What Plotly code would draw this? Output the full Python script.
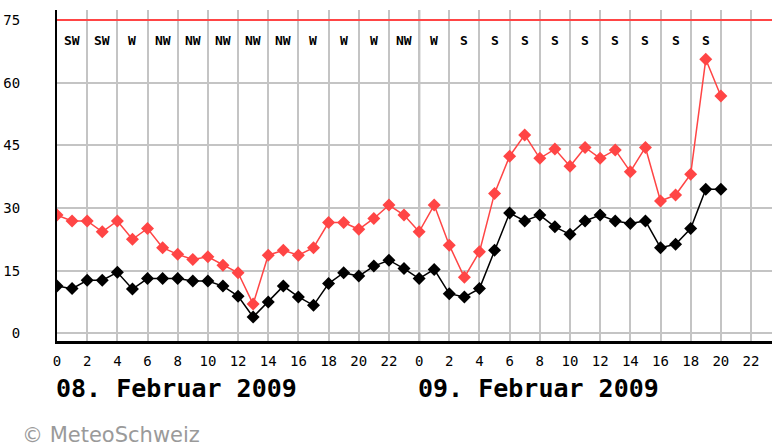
import plotly.graph_objects as go

# ---- data ----
hours = list(range(45))  # hourly from 08.02.2009 00h to 09.02.2009 20h
gusts = [28.3, 26.9, 26.9, 24.3, 26.9, 22.5, 25.1, 20.5, 18.9, 17.7, 18.3, 16.3, 14.5, 7.0,
         18.7, 19.9, 18.7, 20.5, 26.5, 26.5, 24.9, 27.5, 30.7, 28.3,
         24.3, 30.7, 21.1, 13.4, 19.5, 33.5, 42.4, 47.5, 41.9, 44.1, 40.0, 44.5, 41.9, 43.9,
         38.7, 44.5, 31.7, 33.1, 38.1, 65.6, 56.8]
mean_wind = [11.3, 10.7, 12.7, 12.7, 14.6, 10.6, 13.1, 13.1, 13.1, 12.5, 12.5, 11.3, 8.9, 3.9,
             7.5, 11.3, 8.7, 6.7, 11.9, 14.5, 13.7, 16.1, 17.5, 15.5,
             13.1, 15.3, 9.5, 8.7, 10.7, 19.9, 28.8, 26.9, 28.3, 25.5, 23.7, 26.9, 28.3, 26.9,
             26.3, 26.9, 20.5, 21.3, 25.1, 34.5, 34.5]
dir_hours = [1, 3, 5, 7, 9, 11, 13, 15, 17, 19, 21, 23, 25, 27, 29, 31, 33, 35, 37, 39, 41, 43]
dir_labels = ["SW", "SW", "W", "NW", "NW", "NW", "NW", "NW", "W", "W", "W", "NW",
              "W", "S", "S", "S", "S", "S", "S", "S", "S", "S"]
x_tickvals = list(range(0, 47, 2))
x_ticktext = [str(h % 24) for h in x_tickvals]
y_tickvals = [0, 15, 30, 45, 60, 75]
day_labels = ["08. Februar 2009", "09. Februar 2009"]
day_starts = [0, 24]
threshold = 75

RED = "#ff4545"
GRID = "#c4c4c4"
MONO = "DejaVu Sans Mono"

fig = go.Figure()
fig.add_trace(go.Scatter(x=hours, y=gusts, mode="lines+markers",
                         line=dict(color=RED, width=1.5),
                         marker=dict(symbol="diamond", size=10, color=RED),
                         showlegend=False))
fig.add_trace(go.Scatter(x=hours, y=mean_wind, mode="lines+markers",
                         line=dict(color="black", width=1.5),
                         marker=dict(symbol="diamond", size=10, color="black"),
                         showlegend=False))

for h, t in zip(dir_hours, dir_labels):
    fig.add_annotation(x=h, y=70.2, xref="x", yref="y", text="<b>%s</b>" % t, showarrow=False,
                       font=dict(family=MONO, size=13, color="black"))

for s, t in zip(day_starts, day_labels):
    fig.add_annotation(x=s, y=0, xref="x", yref="paper", text="<b>%s</b>" % t,
                       showarrow=False, xanchor="left", yanchor="middle", yshift=-47,
                       xshift=-3,
                       font=dict(family=MONO, size=25, color="black"))

fig.add_annotation(x=0, y=0, xref="paper", yref="paper", text="© MeteoSchweiz",
                   showarrow=False, xanchor="left", yanchor="middle",
                   xshift=-37, yshift=-94,
                   font=dict(family="DejaVu Sans", size=21, color="#9a9a9a"))

# threshold line and day divider
fig.add_shape(type="line", xref="paper", yref="y", x0=0, x1=1, y0=threshold, y1=threshold,
              line=dict(color=RED, width=2))
fig.add_shape(type="line", xref="x", yref="paper", x0=24, x1=24, y0=0, y1=1,
              line=dict(color="black", width=2), layer="below")

fig.update_layout(
    width=772, height=447,
    margin=dict(l=57, r=0, t=10, b=106, autoexpand=False),
    paper_bgcolor="white", plot_bgcolor="white",
    xaxis=dict(range=[0, 47.39], tickvals=x_tickvals, ticktext=x_ticktext,
               showgrid=True, gridcolor=GRID, gridwidth=2, zeroline=False,
               showline=True, linecolor="black", linewidth=2.5, ticks="",
               ticklabelstandoff=5, automargin=False,
               tickfont=dict(family=MONO, size=14, color="black")),
    yaxis=dict(range=[-1.84, 77.4], tickvals=y_tickvals,
               showgrid=True, gridcolor=GRID, gridwidth=2, zeroline=False,
               showline=True, linecolor="black", linewidth=2, ticks="",
               ticklabelstandoff=32, automargin=False,
               tickfont=dict(family=MONO, size=14, color="black")),
)

fig.write_html("out.html", config={"displayModeBar": False},
               post_script="document.body.style.margin='0';document.body.style.overflow='hidden';")
